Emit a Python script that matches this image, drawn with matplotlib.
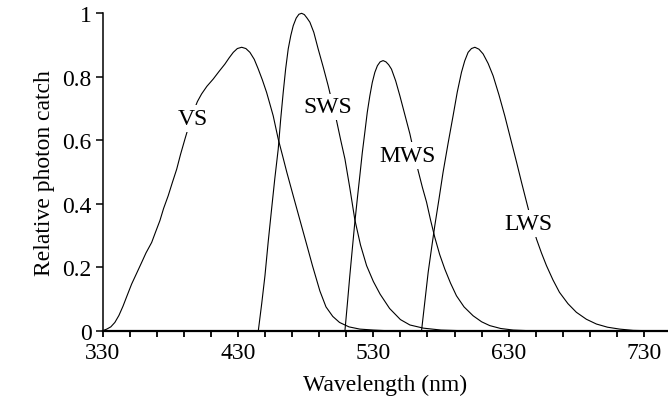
import matplotlib
matplotlib.use("Agg")
import matplotlib.pyplot as plt

plt.rcParams["font.family"] = "Liberation Serif"

# values (wavelength nm, relative catch)
vs_x = [330, 333, 336, 339, 342, 345, 348, 351.4, 355, 358.8, 362, 366.2, 369, 372.3, 375, 378.4,
        381.5, 384.7, 387.5, 390.8, 394, 397, 400, 403.1, 407, 411.7, 416, 420.3, 423.5, 426.5,
        429.5, 432.7, 435.8, 438.8, 442, 444.9, 448, 451.1, 453.5, 456, 459.7, 463, 466, 470.8,
        475, 480.7, 485, 490.5, 495, 500, 505, 512, 520, 530, 540]
vs_y = [0.0, 0.005, 0.012, 0.026, 0.048, 0.077, 0.11, 0.147, 0.18, 0.215, 0.245, 0.278, 0.31,
        0.347, 0.385, 0.425, 0.467, 0.509, 0.555, 0.604, 0.65, 0.69, 0.722, 0.746, 0.77, 0.793,
        0.817, 0.84, 0.86, 0.877, 0.889, 0.893, 0.889, 0.877, 0.855, 0.825, 0.79, 0.751, 0.715,
        0.677, 0.604, 0.55, 0.5, 0.425, 0.36, 0.272, 0.205, 0.125, 0.075, 0.045, 0.026, 0.012,
        0.005, 0.002, 0.0]

sws_x = [445, 447.5, 449.9, 452.3, 454.8, 457.2, 459.7, 461.5, 463.4, 465.2, 467.1, 469, 470.8,
         473, 475, 477, 479, 481, 483.1, 486, 489.2, 493, 496.6, 499.7, 502.8, 505.9, 509, 512.6,
         516.3, 520.5, 525, 530, 535, 542, 550, 557, 567, 580, 595]
sws_y = [0.0, 0.085, 0.173, 0.28, 0.383, 0.48, 0.572, 0.665, 0.751, 0.825, 0.888, 0.93, 0.961,
         0.985, 0.997, 1.0, 0.996, 0.985, 0.972, 0.94, 0.888, 0.83, 0.772, 0.717, 0.662, 0.6,
         0.541, 0.45, 0.35, 0.27, 0.205, 0.155, 0.115, 0.07, 0.035, 0.018, 0.008, 0.002, 0.0]

mws_x = [509, 510.8, 512.6, 514.5, 516.3, 518.2, 520, 521.8, 523.7, 525.5, 527.4, 529.2, 531.1,
         533, 535, 537.2, 539.3, 541.3, 543.4, 546.5, 549.6, 553.3, 557, 560, 563.1, 566.2, 569.3,
         572.3, 575.4, 579, 582.8, 587, 591.4, 597, 603.7, 610, 616, 624, 633.3, 645]
mws_y = [0.0, 0.085, 0.173, 0.26, 0.341, 0.418, 0.488, 0.56, 0.625, 0.688, 0.74, 0.782, 0.814,
         0.835, 0.847, 0.851, 0.847, 0.838, 0.824, 0.787, 0.74, 0.68, 0.62, 0.562, 0.504, 0.452,
         0.405, 0.348, 0.294, 0.24, 0.194, 0.15, 0.11, 0.075, 0.047, 0.028, 0.016, 0.007, 0.002, 0.0]

lws_x = [565.6, 568, 570.5, 573, 575.4, 578.5, 581.5, 585.2, 588.9, 592, 595.1, 597.5, 600, 602.5,
         605, 608, 611.1, 614.8, 618.5, 622.8, 627.1, 631.5, 635.8, 639.5, 643.2, 646.8, 650.5,
         654.2, 657.9, 662.7, 667.5, 673.8, 680, 687.4, 694.8, 703, 712, 722, 732]
lws_y = [0.0, 0.09, 0.184, 0.26, 0.331, 0.415, 0.499, 0.59, 0.677, 0.752, 0.814, 0.85, 0.877,
         0.889, 0.893, 0.887, 0.872, 0.842, 0.803, 0.743, 0.677, 0.603, 0.531, 0.467, 0.405,
         0.345, 0.289, 0.245, 0.205, 0.16, 0.121, 0.085, 0.058, 0.036, 0.021, 0.011, 0.005,
         0.001, 0.0]

labels = ["VS", "SWS", "MWS", "LWS"]
label_x = [396.3, 496.6, 555.1, 644.3]
label_y = [0.651, 0.688, 0.535, 0.320]

xticks = [330, 430, 530, 630, 730]
yticks = [0, 0.2, 0.4, 0.6, 0.8, 1]
ytick_labels = ["0", "0.2", "0.4", "0.6", "0.8", "1"]

fig = plt.figure(figsize=(6.68, 4.02), dpi=100)
ax = fig.add_axes([0.1537, 0.1749, 0.8463, 0.7895])

for xs, ys in [(vs_x, vs_y), (sws_x, sws_y), (mws_x, mws_y), (lws_x, lws_y)]:
    ax.plot(xs, ys, color="black", lw=0.8, clip_on=False, zorder=2, solid_joinstyle="round")

for t, x, y in zip(labels, label_x, label_y):
    ax.text(x, y, t, fontsize=17, ha="center", va="baseline", zorder=3,
            bbox=dict(facecolor="white", edgecolor="none", pad=2))

ax.set_xlim(330, 747.7)
ax.set_ylim(0, 1)
ax.set_xticks(xticks)
ax.set_xticks(range(330, 748, 20), minor=True)
ax.set_yticks(yticks)
ax.set_yticklabels(ytick_labels)

ax.spines["top"].set_visible(False)
ax.spines["right"].set_visible(False)
ax.spines["bottom"].set_linewidth(1.6)
ax.spines["left"].set_linewidth(1.1)
ax.tick_params(axis="x", which="both", direction="out", length=4, width=1.3, labelsize=17, pad=4)
ax.tick_params(axis="y", direction="out", length=5, width=1.1, labelsize=17, pad=3)

ax.set_xlabel("Wavelength (nm)", fontsize=17, labelpad=8)
ax.set_ylabel("Relative photon catch", fontsize=17, labelpad=5)

fig.savefig("out.png", dpi=100)
